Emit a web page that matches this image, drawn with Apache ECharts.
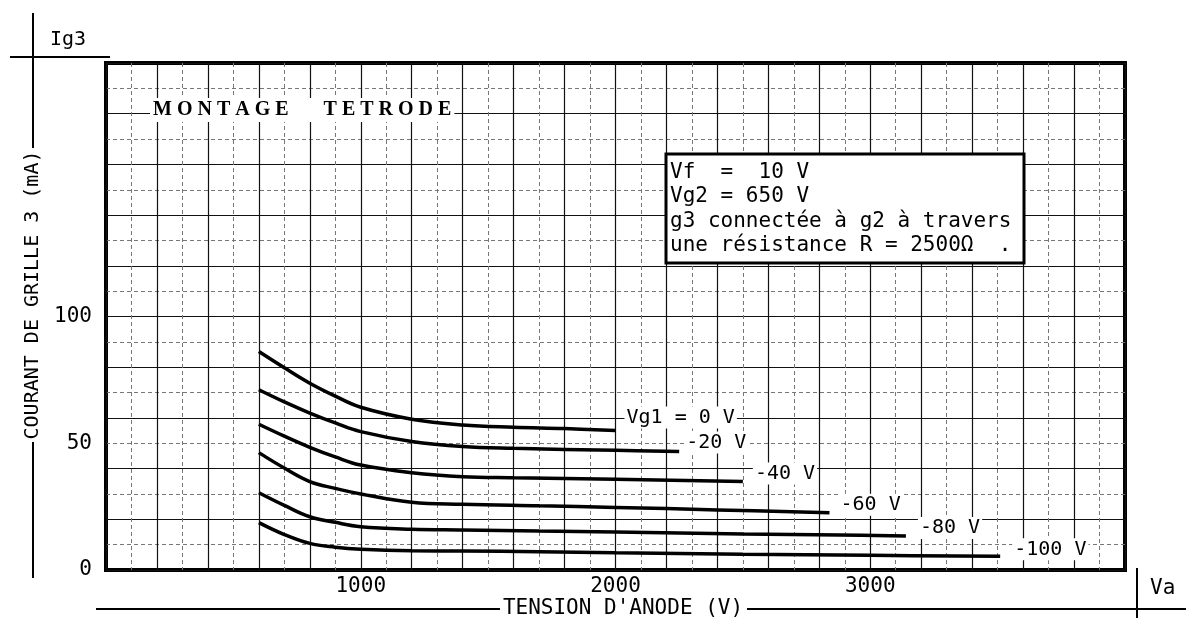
<!DOCTYPE html>
<html>
<head>
<meta charset="utf-8">
<script src="https://cdn.jsdelivr.net/npm/echarts@6/dist/echarts.min.js"></script>
<style>
  html, body { margin: 0; padding: 0; background: #fff; }
  #chart { width: 1186px; height: 621px; }
</style>
</head>
<body>
<div id="chart"></div>
<script>
// axis ticks
const xTickLabels = [1000, 2000, 3000];
const yTickLabels = [0, 50, 100];

// curves: Va (V) -> Ig3 (mA)
const va0   = [600, 700, 800, 900, 1000, 1200, 1400, 1600, 1800, 2000];
const ig0   = [86.2, 79.8, 73.7, 68.6, 64.2, 59.5, 57.2, 56.3, 55.8, 55.0];
const va20  = [600, 700, 800, 900, 1000, 1200, 1400, 1600, 2000, 2250];
const ig20  = [71.1, 66.3, 61.9, 58.0, 54.6, 50.7, 48.7, 48.0, 47.2, 46.7];
const va40  = [600, 700, 800, 900, 1000, 1200, 1400, 1600, 2000, 2500];
const ig40  = [57.5, 52.8, 48.4, 44.6, 41.4, 38.4, 36.8, 36.4, 35.8, 34.9];
const va60  = [600, 700, 800, 900, 1000, 1200, 1400, 1700, 2000, 2400, 2840];
const ig60  = [46.3, 40.2, 34.9, 32.2, 30.0, 26.7, 25.9, 25.3, 24.7, 23.7, 22.6];
const va80  = [600, 700, 800, 900, 1000, 1200, 1400, 1700, 2000, 2500, 2880, 3140];
const ig80  = [30.5, 25.5, 21.0, 18.8, 17.1, 16.1, 15.8, 15.4, 15.0, 14.2, 13.8, 13.4];
const va100 = [600, 700, 800, 900, 1000, 1200, 1400, 1700, 2000, 2500, 3000, 3510];
const ig100 = [18.7, 14.0, 10.5, 9.0, 8.2, 7.6, 7.5, 7.2, 6.8, 6.2, 5.8, 5.4];

const curveNames = ['Vg1 = 0 V', '-20 V', '-40 V', '-60 V', '-80 V', '-100 V'];
const curveVa = [va0, va20, va40, va60, va80, va100];
const curveIg = [ig0, ig20, ig40, ig60, ig80, ig100];
const labelOffsets = [[9, -13], [5, -9], [10, -8], [9, -8], [12, -8], [12, -7]];

const MONO = '"DejaVu Sans Mono", "Liberation Mono", monospace';

const chart = echarts.init(document.getElementById('chart'));

const series = curveNames.map((name, i) => ({
    name: name,
    type: 'line',
    xAxisIndex: 1,
    yAxisIndex: 1,
    data: curveVa[i].map((v, k) => [v, curveIg[i][k]]),
    smooth: 0.4,
    showSymbol: false,
    lineStyle: { color: '#000', width: 3.5 },
    endLabel: {
        show: true,
        formatter: name,
        distance: 0,
        offset: labelOffsets[i],
        color: '#000',
        fontFamily: MONO,
        fontSize: 20,
        backgroundColor: '#fff',
        padding: [1, 2]
    },
    z: 5
}));

chart.setOption({
    animation: false,
    grid: {
        left: 106, right: 61, top: 63, bottom: 51,
        show: true, borderColor: '#000', borderWidth: 4, backgroundColor: '#fff'
    },
    xAxis: [
        {   // grid lines
            type: 'value', min: 0, max: 4000, interval: 200, position: 'top',
            axisLine: { show: false }, axisTick: { show: false }, axisLabel: { show: false },
            splitLine: { show: true, lineStyle: { color: '#111', width: 1.2 } },
            minorTick: { show: false, splitNumber: 2 },
            minorSplitLine: { show: true, lineStyle: { color: '#777', width: 1, type: [4, 3] } }
        },
        {   // labels
            type: 'value', min: 0, max: 4000, interval: 1000, position: 'bottom',
            axisLine: { show: false }, axisTick: { show: false }, splitLine: { show: false },
            axisLabel: {
                margin: 6, color: '#000', fontFamily: MONO, fontSize: 21,
                formatter: v => xTickLabels.includes(v) ? String(v) : ''
            }
        }
    ],
    yAxis: [
        {
            type: 'value', min: 0, max: 200, interval: 20, position: 'right',
            axisLine: { show: false }, axisTick: { show: false }, axisLabel: { show: false },
            splitLine: { show: true, lineStyle: { color: '#111', width: 1.2 } },
            minorTick: { show: false, splitNumber: 2 },
            minorSplitLine: { show: true, lineStyle: { color: '#777', width: 1, type: [4, 3] } }
        },
        {
            type: 'value', min: 0, max: 200, interval: 50, position: 'left',
            axisLine: { show: false }, axisTick: { show: false }, splitLine: { show: false },
            axisLabel: {
                margin: 14, color: '#000', fontFamily: MONO, fontSize: 21,
                formatter: v => yTickLabels.includes(v) ? String(v) : ''
            }
        }
    ],
    series: series,
    graphic: [
        // y axis title with its rule
        { type: 'line', shape: { x1: 33, y1: 13, x2: 33, y2: 148 }, style: { stroke: '#000', lineWidth: 2 } },
        { type: 'line', shape: { x1: 33, y1: 442, x2: 33, y2: 578 }, style: { stroke: '#000', lineWidth: 2 } },
        { type: 'line', shape: { x1: 10, y1: 57, x2: 110, y2: 57 }, style: { stroke: '#000', lineWidth: 2 } },
        { type: 'text', x: 50, y: 40, style: { text: 'Ig3', fill: '#000', font: '20px ' + MONO, verticalAlign: 'middle' } },
        { type: 'text', x: 33, y: 295, rotation: Math.PI / 2,
          style: { text: 'COURANT DE GRILLE 3 (mA)', fill: '#000', font: '20px ' + MONO, align: 'center', verticalAlign: 'middle' } },
        // x axis title with its rule
        { type: 'line', shape: { x1: 96, y1: 609, x2: 500, y2: 609 }, style: { stroke: '#000', lineWidth: 2 } },
        { type: 'line', shape: { x1: 747, y1: 609, x2: 1186, y2: 609 }, style: { stroke: '#000', lineWidth: 2 } },
        { type: 'line', shape: { x1: 1137, y1: 568, x2: 1137, y2: 618 }, style: { stroke: '#000', lineWidth: 2 } },
        { type: 'text', x: 623, y: 609,
          style: { text: "TENSION D'ANODE (V)", fill: '#000', font: '21px ' + MONO, align: 'center', verticalAlign: 'middle' } },
        { type: 'text', x: 1150, y: 589, style: { text: 'Va', fill: '#000', font: '21px ' + MONO, verticalAlign: 'middle' } },
        // title inside the plot
        { type: 'text', x: 150, y: 110, z: 100,
          style: { text: 'M O N T A G E       T E T R O D E', fill: '#000',
                   font: 'bold 20px "Liberation Serif", serif', verticalAlign: 'middle',
                   backgroundColor: '#fff', padding: [2, 3] } },
        // conditions box
        { type: 'rect', z: 100, shape: { x: 666, y: 154, width: 358, height: 109 },
          style: { fill: '#fff', stroke: '#000', lineWidth: 3 } },
        { type: 'text', z: 101, x: 670, y: 160,
          style: { text: 'Vf  =  10 V\nVg2 = 650 V\ng3 connectée à g2 à travers\nune résistance R = 2500Ω  .',
                   fill: '#000', font: '21px ' + MONO, lineHeight: 24.5 } }
    ]
});
</script>
</body>
</html>
